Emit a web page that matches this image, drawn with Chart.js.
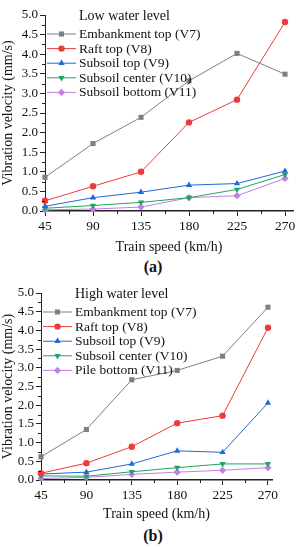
<!DOCTYPE html>
<html lang="en">
<head>
<meta charset="UTF-8">
<title>Vibration velocity vs train speed</title>
<script src="https://cdn.jsdelivr.net/npm/chart.js"></script>
<style>
  * { margin: 0; padding: 0; box-sizing: border-box; }
  body { width: 298px; height: 550px; background: #fff; position: relative; overflow: hidden;
         font-family: 'Liberation Serif', 'DejaVu Serif', serif; }
  .wrap { position: absolute; left: 0; width: 298px; }
  #wrapA { top: 0; height: 256px; }
  #wrapB { top: 278px; height: 245px; }
  .tag { position: absolute; left: 0; width: 306px; text-align: center; font-size: 16px; font-weight: bold; color: #111; }
  #tagA { top: 258px; }
  #tagB { top: 527px; }
</style>
</head>
<body>
<div class="wrap" id="wrapA"><canvas id="chartA" width="298" height="256"></canvas></div>
<div class="tag" id="tagA">(a)</div>
<div class="wrap" id="wrapB"><canvas id="chartB" width="298" height="245"></canvas></div>
<div class="tag" id="tagB">(b)</div>

<script>
// Data
const speeds = [45, 90, 135, 180, 225, 270];
const xTicks = [45, 90, 135, 180, 225, 270];
const yTicks = [0, 0.5, 1.0, 1.5, 2.0, 2.5, 3.0, 3.5, 4.0, 4.5, 5.0];

const lowNames = ['Embankment top (V7)', 'Raft top (V8)', 'Subsoil top (V9)', 'Subsoil center (V10)', 'Subsoil bottom (V11)'];
const lowV7 = [0.86, 1.72, 2.39, 3.32, 4.02, 3.49];
const lowV8 = [0.26, 0.63, 1.00, 2.26, 2.84, 4.82];
const lowV9 = [0.12, 0.34, 0.48, 0.66, 0.70, 1.02];
const lowV10 = [0.07, 0.14, 0.22, 0.34, 0.55, 0.93];
const lowV11 = [0.03, 0.05, 0.10, 0.34, 0.39, 0.83];

const highNames = ['Embankment top (V7)', 'Raft top (V8)', 'Subsoil top (V9)', 'Subsoil center (V10)', 'Pile bottom (V11)'];
const highV7 = [0.62, 1.35, 2.68, 2.93, 3.31, 4.62];
const highV8 = [0.18, 0.45, 0.89, 1.52, 1.72, 4.07];
const highV9 = [0.16, 0.21, 0.43, 0.78, 0.74, 2.06];
const highV10 = [0.11, 0.10, 0.22, 0.33, 0.43, 0.43];
const highV11 = [0.04, 0.07, 0.15, 0.21, 0.26, 0.33];

// Series styles
const colors = ['#7f7f7f', '#ee3a3a', '#1d6ad6', '#1fa463', '#c47ee6'];
const markers = [
  { style: 'rect', radius: 3.6, rotation: 0 },
  { style: 'circle', radius: 3.2, rotation: 0 },
  { style: 'triangle', radius: 3.6, rotation: 0 },
  { style: 'triangle', radius: 3.6, rotation: 180 },
  { style: 'rectRot', radius: 3.6, rotation: 0 }
];

Chart.defaults.font.family = "'Liberation Serif', 'DejaVu Serif', serif";
Chart.defaults.color = '#222';

function drawMarker(ctx, m, x, y, color) {
  ctx.save();
  ctx.fillStyle = color;
  ctx.translate(x, y);
  ctx.rotate(m.rotation * Math.PI / 180);
  ctx.beginPath();
  const r = m.radius;
  if (m.style === 'rect') {
    const s = Math.SQRT1_2 * r;
    ctx.rect(-s, -s, 2 * s, 2 * s);
  } else if (m.style === 'circle') {
    ctx.arc(0, 0, r, 0, Math.PI * 2);
  } else if (m.style === 'triangle') {
    ctx.moveTo(0, -r);
    ctx.lineTo(r * 0.866, r * 0.5);
    ctx.lineTo(-r * 0.866, r * 0.5);
    ctx.closePath();
  } else if (m.style === 'rectRot') {
    ctx.moveTo(0, -r); ctx.lineTo(r, 0); ctx.lineTo(0, r); ctx.lineTo(-r, 0); ctx.closePath();
  }
  ctx.fill();
  ctx.restore();
}

// legend drawn inside the plot, with line + marker like the original
const inlineLegend = {
  id: 'inlineLegend',
  afterDraw(chart, args, opts) {
    const ctx = chart.ctx;
    const a = chart.chartArea;
    const x0 = a.left + 2;
    ctx.save();
    ctx.font = "14px 'Liberation Serif', serif";
    ctx.fillStyle = '#111';
    ctx.textBaseline = 'middle';
    ctx.fillText(opts.title, x0 + 32, a.top + 1);
    ctx.font = "13.5px 'Liberation Serif', serif";
    opts.names.forEach((name, i) => {
      const y = a.top + 19 + i * 14.6;
      ctx.strokeStyle = colors[i];
      ctx.lineWidth = 1;
      ctx.beginPath();
      ctx.moveTo(x0, y); ctx.lineTo(x0 + 29, y);
      ctx.stroke();
      drawMarker(ctx, markers[i], x0 + 14.5, y, colors[i]);
      ctx.fillStyle = '#111';
      ctx.fillText(name, x0 + 32, y + 0.5);
    });
    ctx.restore();
  }
};

// short minor ticks between the labelled ones on the x axis
const minorTicks = {
  id: 'minorTicks',
  afterDraw(chart) {
    const ctx = chart.ctx;
    const xs = chart.scales.x;
    const ys = chart.scales.y;
    ctx.save();
    ctx.strokeStyle = '#222';
    ctx.lineWidth = 1;
    for (let i = 0; i < xTicks.length - 1; i++) {
      const px = Math.round(xs.getPixelForValue((xTicks[i] + xTicks[i + 1]) / 2)) + 0.5;
      ctx.beginPath();
      ctx.moveTo(px, xs.top); ctx.lineTo(px, xs.top + 3);
      ctx.stroke();
    }
    for (let i = 0; i < yTicks.length - 1; i++) {
      const py = Math.round(ys.getPixelForValue((yTicks[i] + yTicks[i + 1]) / 2)) + 0.5;
      ctx.beginPath();
      ctx.moveTo(ys.right, py); ctx.lineTo(ys.right - 3, py);
      ctx.stroke();
    }
    ctx.restore();
  }
};

function makeChart(id, title, names, series, cfg) {
  const datasets = series.map((vals, i) => ({
    label: names[i],
    data: vals.map((v, j) => ({ x: speeds[j], y: v })),
    borderColor: colors[i],
    backgroundColor: colors[i],
    borderWidth: 1,
    pointStyle: markers[i].style,
    pointRadius: markers[i].radius,
    pointRotation: markers[i].rotation,
    pointBorderWidth: 0,
    clip: false
  }));
  return new Chart(document.getElementById(id), {
    type: 'line',
    data: { datasets },
    plugins: [inlineLegend, minorTicks],
    options: {
      responsive: false,
      animation: false,
      layout: { padding: { top: cfg.top, right: cfg.right, left: 0, bottom: 0 } },
      plugins: {
        legend: { display: false },
        tooltip: { enabled: false },
        inlineLegend: { title, names }
      },
      scales: {
        x: {
          type: 'linear',
          min: 45,
          max: cfg.xmax,
          afterBuildTicks: s => { s.ticks = xTicks.map(v => ({ value: v })); },
          afterFit: s => { s.height = cfg.xh; },
          ticks: { font: { size: 13.5 }, color: '#111', padding: 2, maxRotation: 0 },
          grid: { drawOnChartArea: false, tickLength: 5, color: '#222' },
          border: { color: '#222', width: 1.5 },
          title: { display: true, text: 'Train speed (km/h)', font: { size: 14 }, color: '#111', padding: { top: 2, bottom: 0 } }
        },
        y: {
          min: 0,
          max: 5,
          afterBuildTicks: s => { s.ticks = yTicks.map(v => ({ value: v })); },
          afterFit: s => { s.width = cfg.yw; },
          ticks: { font: { size: 13 }, color: '#111', padding: 2, callback: v => v.toFixed(1) },
          grid: { drawOnChartArea: false, tickLength: 5, color: '#222' },
          border: { color: '#222', width: 1 },
          title: { display: true, text: 'Vibration velocity (mm/s)', font: { size: 14 }, color: '#111', padding: 0 }
        }
      }
    }
  });
}

makeChart('chartA', 'Low water level', lowNames, [lowV7, lowV8, lowV9, lowV10, lowV11],
  { top: 15, right: 5, xmax: 277.5, xh: 45, yw: 45 });
makeChart('chartB', 'High water level', highNames, [highV7, highV8, highV9, highV10, highV11],
  { top: 15, right: 26, xmax: 274, xh: 43, yw: 41 });
</script>
</body>
</html>
